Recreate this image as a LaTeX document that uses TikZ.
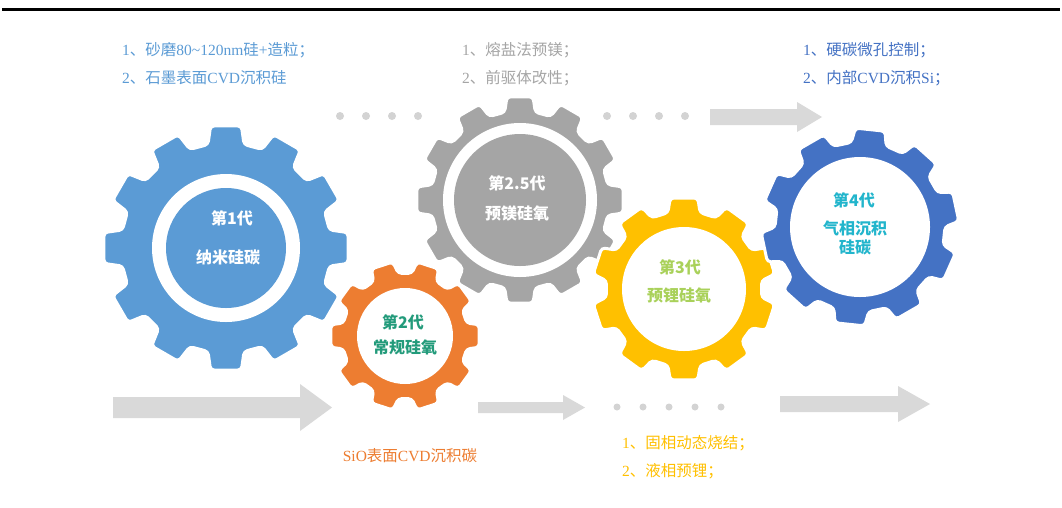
\documentclass[tikz,border=0pt]{standalone}
\usepackage{fontspec}
\newfontfamily\cjk{Noto Sans CJK SC}
\newfontfamily\lat{Liberation Serif}
\definecolor{gA}{HTML}{5B9BD5}
\definecolor{gB}{HTML}{ED7D31}
\definecolor{gC}{HTML}{A5A5A5}
\definecolor{gD}{HTML}{FFC000}
\definecolor{gE}{HTML}{4472C4}
\definecolor{agray}{HTML}{D9D9D9}
\definecolor{dgray}{HTML}{D3D3D3}
\definecolor{tB}{HTML}{239B7B}
\definecolor{tD}{HTML}{A9D15A}
\definecolor{tE}{HTML}{22B5CC}
% #1 centre, #2 teeth, #3 body radius, #4 tip radius, #5 colour, #6 phase
\newcommand\drawgear[6]{%
  \pgfmathsetmacro\gp{360/#2}%
  \pgfmathsetmacro\gwb{0.33*\gp}%
  \pgfmathsetmacro\gwt{0.24*\gp}%
  \fill[#5, draw=white, line width=3pt, rounded corners=3.5pt, shift={#1}]
    ({#6-\gwb}:#3) -- ({#6-\gwt}:#4) -- ({#6+\gwt}:#4) -- ({#6+\gwb}:#3)
    \foreach \k in {2,...,#2} {
      -- ({#6+(\k-1)*\gp-\gwb}:#3) -- ({#6+(\k-1)*\gp-\gwt}:#4)
      -- ({#6+(\k-1)*\gp+\gwt}:#4) -- ({#6+(\k-1)*\gp+\gwb}:#3)
    } -- cycle;
}
% #1 x start, #2 head start, #3 tip, #4 y centre, #5 shaft half height, #6 head half height
\newcommand\bigarrow[6]{%
  \fill[agray] (#1,#4-#5) -- (#2,#4-#5) -- (#2,#4-#6) -- (#3,#4)
    -- (#2,#4+#6) -- (#2,#4+#5) -- (#1,#4+#5) -- cycle;
}
\newcommand\lt[1]{{\lat #1}}
\tikzset{
  note/.style={font=\cjk\fontsize{15.5}{18}\selectfont, anchor=west, inner sep=0pt},
  geartxt/.style={font=\cjk\bfseries\fontsize{16}{18}\selectfont, inner sep=0pt},
  dot/.style={fill=dgray, draw=none}
}
\begin{document}
\begin{tikzpicture}[x=1pt,y=-1pt]
\fill[white] (0,0) rectangle (1062,507);
\useasboundingbox (0,0) rectangle (1062,507);
\draw[line width=3pt] (2,9.5) -- (1060,9.5);

% arrows
\bigarrow{113}{300}{332}{407.5}{10.5}{23.5}
\bigarrow{478}{563}{585}{407.5}{5.5}{12.5}
\bigarrow{780}{898}{930}{404}{8}{18}
\bigarrow{710}{797}{822}{117}{8}{15}

% dots
\foreach \xx in {340,366,392,418,607,633,659,685}
  \fill[dot] (\xx,116) circle (4pt);
\foreach \xx in {617,643,669,695,721}
  \fill[dot] (\xx,407) circle (3.5pt);

% gear 1
\drawgear{(226,248)}{12}{105}{123}{gA}{90}
\fill[white] (226,248) circle (74pt);
\fill[gA] (226,248) circle (60pt);
% gear 2.5
\drawgear{(520,200)}{12}{89}{104}{gC}{90}
\fill[white] (520,200) circle (77pt);
\fill[gC] (520,200) circle (66pt);
% gear 2
\drawgear{(405,336)}{10}{63}{75}{gB}{108}
\fill[white] (405,336) circle (48pt);
% gear 3
\drawgear{(684,289)}{10}{78}{92}{gD}{90}
\fill[white] (684,289) circle (62pt);
% gear 4
\drawgear{(860,227)}{10}{85}{99}{gE}{96}
\fill[white] (860,227) circle (70pt);

% gear texts
\node[geartxt, text=white] (a1) at (232,218) {第1代};
\node[geartxt, text=white] (a2) at (228,257) {纳米硅碳};
\node[geartxt, text=tB] (b1) at (403,322) {第2代};
\node[geartxt, text=tB] (b2) at (405,347) {常规硅氧};
\node[geartxt, text=white] (c1) at (517,183) {第2.5代};
\node[geartxt, text=white] (c2) at (517,213) {预镁硅氧};
\node[geartxt, text=tD] (d1) at (680,267) {第3代};
\node[geartxt, text=tD] (d2) at (679,295) {预锂硅氧};
\node[geartxt, text=tE] (e1) at (854,200) {第4代};
\node[geartxt, text=tE] (e2) at (855,228) {气相沉积};
\node[geartxt, text=tE] (e3) at (855,247) {硅碳};

% notes
\node[note, text=gA] (n1) at (122,50) {\lt{1}、砂磨\lt{80\textasciitilde120nm}硅\lt{+}造粒；};
\node[note, text=gA] (n2) at (122,78) {\lt{2}、石墨表面\lt{CVD}沉积硅};
\node[note, text=gC] (n3) at (462,50) {\lt{1}、熔盐法预镁；};
\node[note, text=gC] (n4) at (462,78) {\lt{2}、前驱体改性；};
\node[note, text=gE] (n5) at (803,50) {\lt{1}、硬碳微孔控制；};
\node[note, text=gE] (n6) at (803,78) {\lt{2}、内部\lt{CVD}沉积\lt{Si}；};
\node[note, text=gB, anchor=center] (n7) at (410,456) {\lt{SiO}表面\lt{CVD}沉积碳};
\node[note, text=gD] (n8) at (622,443) {\lt{1}、固相动态烧结；};
\node[note, text=gD] (n9) at (622,471) {\lt{2}、液相预锂；};
\end{tikzpicture}
\end{document}
